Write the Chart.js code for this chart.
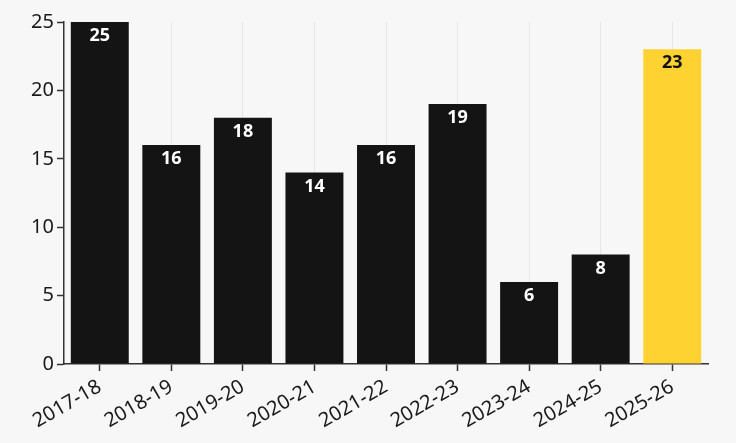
<!DOCTYPE html>
<html>
<head>
<meta charset="utf-8">
<script src="https://cdn.jsdelivr.net/npm/chart.js@4/dist/chart.umd.min.js"></script>
<style>
  html, body { margin: 0; padding: 0; background: #f7f7f7; }
  #wrap { width: 736px; height: 443px; }
</style>
</head>
<body>
<div id="wrap"><canvas id="myChart"></canvas></div>
<script>
'use strict';

var seasons = ["2017-18", "2018-19", "2019-20", "2020-21", "2021-22", "2022-23", "2023-24", "2024-25", "2025-26"];
var counts = [25, 16, 18, 14, 16, 19, 6, 8, 23];
var yTicks = [0, 5, 10, 15, 20, 25];

var barColors = counts.map(function(v, i) {
  return i === counts.length - 1 ? '#fdd231' : '#141414';
});
var labelColors = counts.map(function(v, i) {
  return i === counts.length - 1 ? '#111111' : '#ffffff';
});

// values drawn inside the top of each bar
var barLabels = {
  id: 'barLabels',
  afterDatasetsDraw: function(chart) {
    var c = chart.ctx;
    var meta = chart.getDatasetMeta(0);
    c.save();
    c.font = 'bold 18px "Noto Sans"';
    c.textAlign = 'center';
    c.textBaseline = 'middle';
    meta.data.forEach(function(bar, i) {
      c.fillStyle = labelColors[i];
      c.fillText(String(counts[i]), bar.x, bar.y + 14);
    });
    c.restore();
  }
};

var ctx = document.getElementById('myChart').getContext('2d');

var chart = new Chart(ctx, {
  type: 'bar',
  data: {
    labels: seasons,
    datasets: [{
      data: counts,
      backgroundColor: barColors,
      borderWidth: 0,
      barPercentage: 0.9,
      categoryPercentage: 0.9
    }]
  },
  options: {
    responsive: true,
    maintainAspectRatio: false,
    animation: false,
    layout: { padding: { top: 22, right: 28, left: 0, bottom: 0 } },
    plugins: {
      legend: { display: false },
      tooltip: { enabled: false }
    },
    scales: {
      x: {
        grid: {
          offset: false,
          color: '#e6e6e6',
          lineWidth: 1,
          tickColor: '#333333',
          tickLength: 7,
          tickWidth: 1.5
        },
        border: { color: '#333333', width: 1.5 },
        ticks: {
          color: '#1a1a1a',
          font: { family: 'Noto Sans', size: 20 },
          minRotation: 30,
          maxRotation: 30,
          padding: 4
        },
        afterFit: function(scale) { scale.height = 79; }
      },
      y: {
        min: 0,
        max: 25,
        afterBuildTicks: function(scale) {
          scale.ticks = yTicks.map(function(v) { return { value: v }; });
        },
        grid: {
          drawOnChartArea: false,
          tickColor: '#333333',
          tickLength: 7,
          tickWidth: 1.5
        },
        border: { color: '#333333', width: 1.5 },
        ticks: {
          color: '#1a1a1a',
          font: { family: 'Noto Sans', size: 20 },
          padding: 3
        },
        afterFit: function(scale) { scale.width = 64; }
      }
    }
  },
  plugins: [barLabels]
});
</script>
</body>
</html>
